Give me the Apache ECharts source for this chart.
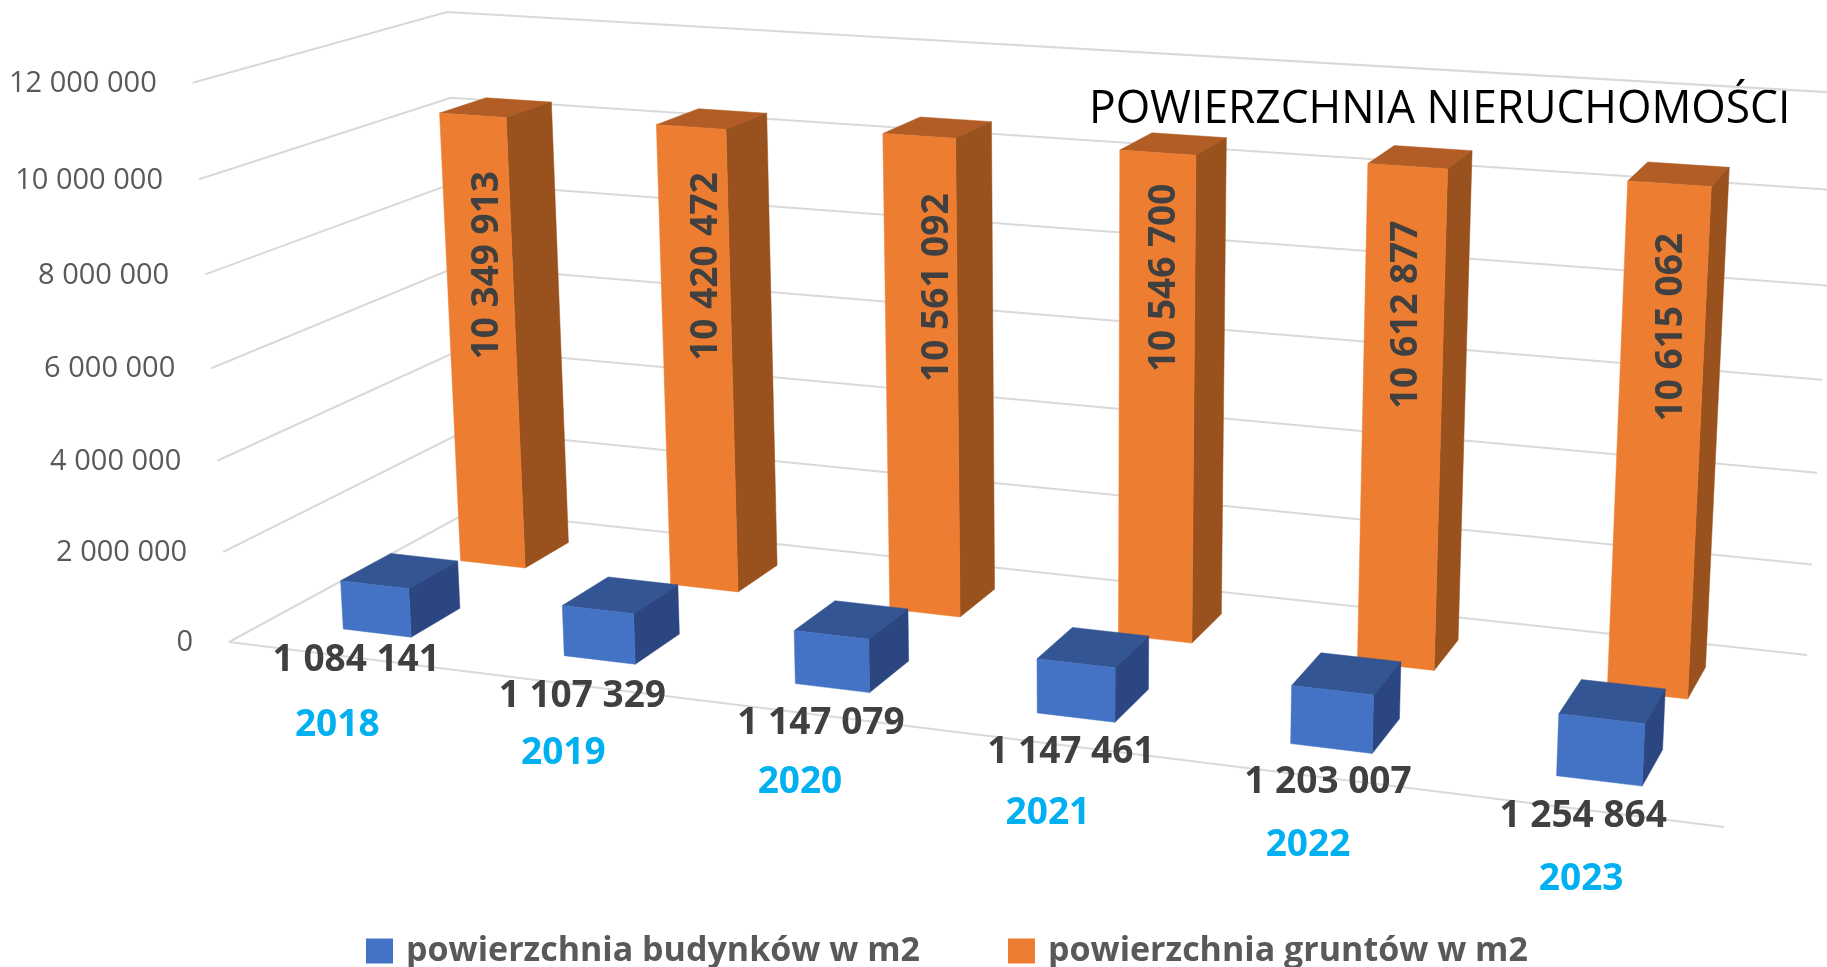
<!DOCTYPE html>
<html>
<head>
<meta charset="utf-8">
<title>Powierzchnia nieruchomości</title>
<style>
	html, body { margin: 0; padding: 0; background: #fff; overflow: hidden; }
	#chart { width: 1827px; height: 967px; }
</style>
<script src="https://cdn.jsdelivr.net/npm/echarts@6/dist/echarts.min.js"></script>
</head>
<body>
<div id="chart"></div>
<script>
var years = ['2018', '2019', '2020', '2021', '2022', '2023'];
var budynki = [1084141, 1107329, 1147079, 1147461, 1203007, 1254864];
var grunty = [10349913, 10420472, 10561092, 10546700, 10612877, 10615062];
var yTicks = [0, 2000000, 4000000, 6000000, 8000000, 10000000, 12000000];

var FONT = '"Open Sans", "Noto Sans", sans-serif';

// rogi pudelka wykresu na ekranie, z nich liczona jest perspektywa
var O = [229, 642, 1], E = [1724, 827, 1], C = [470, 511, 1], F = [1807, 655, 1], D = [447, 12, 1], G = [1838, 89, 1];

var cross = function(a, b) {
	return [a[1] * b[2] - a[2] * b[1], a[2] * b[0] - a[0] * b[2], a[0] * b[1] - a[1] * b[0]];
};
var dot = function(a, b) {
	return a[0] * b[0] + a[1] * b[1] + a[2] * b[2];
};
var det3 = function(a, b, c) {
	return dot(a, cross(b, c));
};
var mul = function(a, k) {
	return [a[0] * k, a[1] * k, a[2] * k];
};
var sub = function(a, b) {
	return [a[0] - b[0], a[1] - b[1], a[2] - b[2]];
};

var negF = mul(F, -1);
var dd = det3(E, C, negF);
var wx = det3(O, C, negF) / dd;
var wz = det3(E, O, negF) / dd;
var cx = sub(mul(E, wx), O), cz = sub(mul(C, wz), O);
var kD = (G[0] * cx[2] - cx[0]) / (D[0] - G[0] * D[2]);
var cy = sub(sub(mul(D, kD), cz), O);

var project = function(X, Y, Z) {
	var p = [0, 1, 2].map(function(i) {
		return X * cx[i] + Y * cy[i] + Z * cz[i] + O[i];
	});
	return [p[0] / p[2], p[1] / p[2]];
};

var BAR_FRAC = 0.312;
var ROW_BLUE = [0.152, 0.354];
var ROW_ORANGE = [0.653, 0.855];

// etykiety byly przesuwane recznie w oryginale
var orangeLabelFrac = [0.674, 0.705, 0.69, 0.75, 0.711, 0.727];
var orangeLabelDx = [5, 9, 14, 4, -1, 5];
var blueLabelDx = [18, 18, 20, 22, 19, 1];
var blueLabelDy = [5, 13, 11, 9, 7, 7];

var toUnit = function(api, params, cat, val) {
	var rect = params.coordSys;
	var pt = api.coord([cat, val]);
	var band = api.size([1, 0])[0];
	return {
		X: (pt[0] - rect.x) / rect.width,
		Y: (rect.y + rect.height - pt[1]) / rect.height,
		half: band * BAR_FRAC / 2 / rect.width
	};
};

var poly = function(points, fill) {
	return { type: 'polygon', shape: { points: points }, style: { fill: fill, stroke: fill, lineWidth: 0.5 } };
};

var barRenderer = function(row, shift, front, top, side, labelFn) {
	return function(params, api) {
		var u = toUnit(api, params, api.value(0), api.value(1));
		var x0 = u.X + shift - u.half, x1 = u.X + shift + u.half, z0 = row[0], z1 = row[1];
		var children = [
			poly([project(x0, u.Y, z0), project(x1, u.Y, z0), project(x1, u.Y, z1), project(x0, u.Y, z1)], top),
			poly([project(x1, 0, z0), project(x1, 0, z1), project(x1, u.Y, z1), project(x1, u.Y, z0)], side),
			poly([project(x0, 0, z0), project(x1, 0, z0), project(x1, u.Y, z0), project(x0, u.Y, z0)], front)
		];
		children.push(labelFn(u, api.value(1), api.value(0)));
		return { type: 'group', children: children };
	};
};

var fmt = function(v) {
	return String(v).replace(/\B(?=(\d{3})+$)/g, ' ');
};

var valueText = function(p, v, rot) {
	return {
		type: 'text', x: p[0], y: p[1], rotation: rot,
		style: { text: fmt(v), fontFamily: FONT, fontWeight: 'bold', fontSize: 37, fill: '#404040', align: 'center', verticalAlign: 'middle' }
	};
};

var option = {
	animation: false,
	backgroundColor: '#fff',
	graphic: [{
		type: 'text', x: 1089, y: 87, scaleX: 0.963,
		style: { text: 'POWIERZCHNIA NIERUCHOMOŚCI', fontFamily: FONT, fontSize: 46, fill: '#000' }
	}],
	legend: {
		left: 361, top: 929, itemWidth: 27, itemHeight: 25, itemGap: 88, icon: 'rect',
		data: ['powierzchnia budynków w m2', 'powierzchnia gruntów w m2'],
		textStyle: { fontFamily: FONT, fontWeight: 'bold', fontSize: 34, color: '#595959', padding: [0, 0, 61, 8] }
	},
	grid: { left: 100, right: 100, top: 100, bottom: 100 },
	xAxis: { type: 'category', data: years, show: false },
	yAxis: { type: 'value', min: 0, max: 12000000, interval: 2000000, show: false },
	series: [{
		name: 'siatka',
		type: 'custom',
		silent: true,
		encode: { x: 0, y: 1 },
		data: yTicks.map(function(v) { return [0, v]; }),
		renderItem: function(params, api) {
			var u = toUnit(api, params, 0, api.value(1));
			var start = project(0, u.Y, 0);
			var pts = [start, project(0, u.Y, 1), project(1, u.Y, 1)];
			var children = [{
				type: 'polyline', shape: { points: pts }, style: { stroke: '#D9D9D9', lineWidth: 2, fill: 'none' }
			}, {
				type: 'text', x: start[0] - 36, y: start[1] + 1,
				style: { text: fmt(api.value(1)), fontFamily: FONT, fontSize: 29, fill: '#595959', align: 'right', verticalAlign: 'middle' }
			}];
			if (api.value(1) === 0) {
				children.push({
					type: 'polyline', shape: { points: [start, project(1, 0, 0)] }, style: { stroke: '#D9D9D9', lineWidth: 2, fill: 'none' }
				});
			}
			return { type: 'group', children: children };
		}
	}, {
		name: 'powierzchnia gruntów w m2',
		type: 'custom',
		encode: { x: 0, y: 1 },
		itemStyle: { color: '#ED7D31' },
		data: grunty.map(function(v, i) { return [i, v]; }),
		renderItem: barRenderer(ROW_ORANGE, -0.002, '#ED7D31', '#B25D25', '#99511D', function(u, v, i) {
			var p = project(u.X, u.Y * orangeLabelFrac[i], ROW_ORANGE[0]);
			return valueText([p[0] + orangeLabelDx[i], p[1]], v, Math.PI / 2);
		})
	}, {
		name: 'powierzchnia budynków w m2',
		type: 'custom',
		encode: { x: 0, y: 1 },
		itemStyle: { color: '#4472C4' },
		data: budynki.map(function(v, i) { return [i, v]; }),
		renderItem: barRenderer(ROW_BLUE, 0, '#4472C4', '#335593', '#2B4680', function(u, v, i) {
			var p = project(u.X, 0, 0);
			return valueText([p[0] + blueLabelDx[i], p[1] + blueLabelDy[i]], v, 0);
		})
	}, {
		name: 'lata',
		type: 'custom',
		silent: true,
		encode: { x: 0, y: 1 },
		data: years.map(function(y, i) { return [i, 0]; }),
		renderItem: function(params, api) {
			var u = toUnit(api, params, api.value(0), 0);
			var p = project(u.X, 0, 0);
			return {
				type: 'text', x: p[0] - 1, y: p[1] + 70,
				style: { text: years[api.value(0)], fontFamily: FONT, fontWeight: 'bold', fontSize: 37, fill: '#00B0F0', align: 'center', verticalAlign: 'middle' }
			};
		}
	}]
};

var myChart = echarts.init(document.getElementById('chart'));
myChart.setOption(option);
</script>
</body>
</html>
